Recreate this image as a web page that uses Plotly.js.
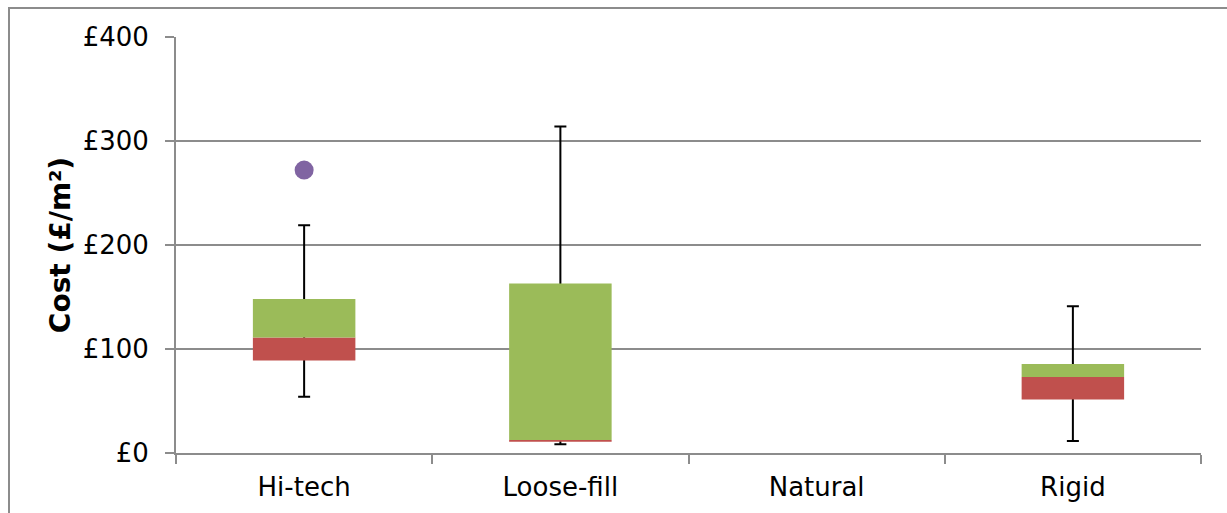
<!DOCTYPE html>
<html>
<head>
<meta charset="utf-8">
<script src="https://cdn.plot.ly/plotly-3.0.1.min.js"></script>
<style>html,body{margin:0;padding:0;background:#fff;}#chart{width:1227px;height:513px;}</style>
</head>
<body>
<div id="chart"></div>
<script>
// Data
const categories = ["Hi-tech", "Loose-fill", "Natural", "Rigid"];
const minValues    = [54, 8.5, null, 11.5];
const q1Values     = [89, 10.8, null, 51.5];
const medianValues = [111, 12.5, null, 73];
const q3Values     = [148, 163, null, 85.5];
const maxValues    = [219, 314, null, 141];
const outlierCategories = ["Hi-tech"];
const outlierValues = [272];

const red = '#C0504D', green = '#9BBB59', purple = '#8064A2', grid = '#8c8c8c';

const lowerPart = medianValues.map((m, i) => m == null ? null : m - q1Values[i]);
const upperPart = medianValues.map((m, i) => m == null ? null : q3Values[i] - m);
const whiskerUp = medianValues.map((m, i) => m == null ? null : maxValues[i] - m);
const whiskerDown = medianValues.map((m, i) => m == null ? null : m - minValues[i]);

const traces = [
  { // invisible carrier for whiskers (drawn first, under the boxes)
    type: 'bar', x: categories, y: medianValues, width: 0.4,
    marker: {color: 'rgba(0,0,0,0)'}, hoverinfo: 'skip', showlegend: false,
    error_y: {type: 'data', symmetric: false, array: whiskerUp, arrayminus: whiskerDown,
              color: '#000', thickness: 2, width: 6}
  },
  {
    type: 'bar', x: categories, y: lowerPart, base: q1Values, width: 0.4,
    marker: {color: red, line: {width: 0}}, showlegend: false
  },
  {
    type: 'bar', x: categories, y: upperPart, base: medianValues, width: 0.4,
    marker: {color: green, line: {width: 0}}, showlegend: false
  },
  {
    type: 'scatter', mode: 'markers', x: outlierCategories, y: outlierValues,
    marker: {color: purple, size: 19}, showlegend: false
  }
];

const layout = {
  width: 1227, height: 513,
  margin: {l: 176, r: 26, t: 37, b: 60},
  paper_bgcolor: '#fff', plot_bgcolor: '#fff',
  font: {family: 'DejaVu Sans, Verdana, sans-serif', size: 25, color: '#000'},
  barmode: 'overlay',
  showlegend: false,
  xaxis: {
    type: 'category', categoryorder: 'array', categoryarray: categories,
    range: [-0.5, 3.5], showgrid: false, zeroline: false,
    showline: true, linecolor: grid, linewidth: 2,
    ticks: 'outside', tickson: 'boundaries', ticklen: 9, tickcolor: grid, tickwidth: 2,
    ticklabelstandoff: 10,
    tickfont: {size: 26}, fixedrange: true
  },
  yaxis: {
    range: [0, 400], dtick: 100, tickprefix: '£',
    showgrid: true, gridcolor: grid, gridwidth: 2, zeroline: false,
    showline: true, linecolor: grid, linewidth: 2,
    ticks: 'outside', ticklen: 9, tickcolor: grid, tickwidth: 2,
    ticklabelstandoff: 11,
    tickfont: {size: 26},
    title: {text: '<b>Cost (£/m²)</b>', font: {size: 28}, standoff: 4},
    automargin: false, fixedrange: true
  },
  shapes: [{
    type: 'rect', xref: 'paper', yref: 'paper',
    x0: (9 - 176) / 1025, x1: (1240 - 176) / 1025,
    y0: (453 - 530) / 416, y1: (453 - 8) / 416,
    line: {color: grid, width: 2}, fillcolor: 'rgba(0,0,0,0)', layer: 'below'
  }]
};

Plotly.newPlot('chart', traces, layout, {displayModeBar: false, staticPlot: true});
</script>
</body>
</html>
